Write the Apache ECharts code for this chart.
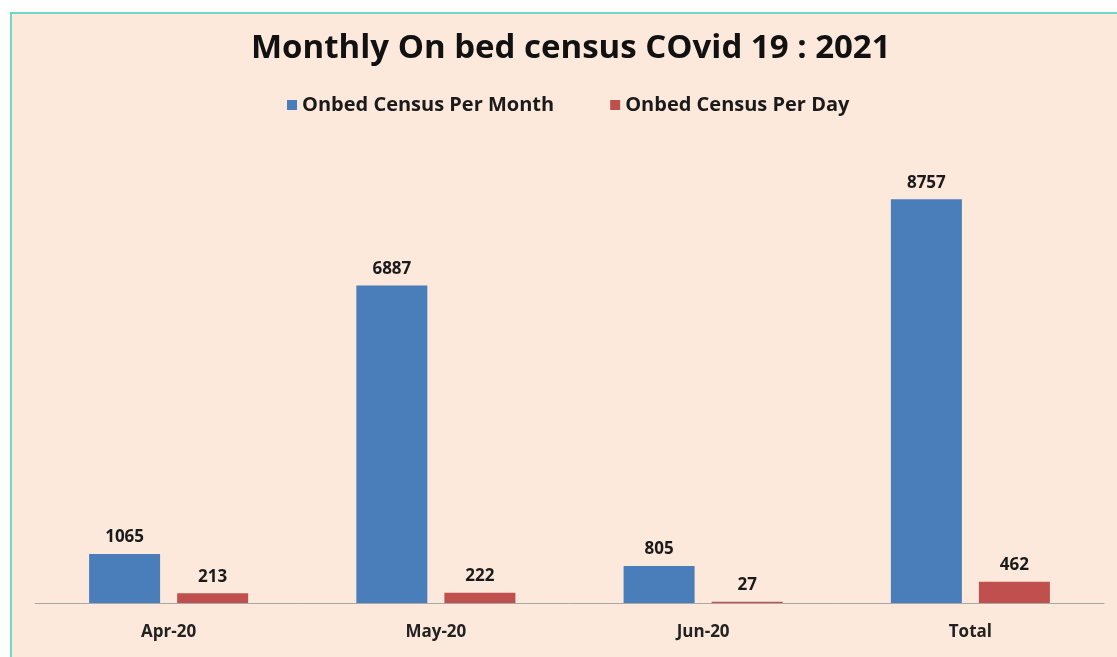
<!DOCTYPE html>
<html>
<head>
<meta charset="utf-8">
<script src="https://cdn.jsdelivr.net/npm/echarts@6/dist/echarts.min.js"></script>
<style>
html,body{margin:0;padding:0;background:#fff;width:1117px;height:657px;overflow:hidden;}
#bg{position:absolute;left:10px;top:12px;right:0;bottom:0;background:#FDE9DC;border-left:2px solid #6FD8C2;border-top:2px solid #6FD8C2;}
#chart{position:absolute;left:0;top:0;width:1117px;height:657px;}
</style>
</head>
<body>
<div id="bg"></div>
<div id="chart"></div>
<script>
const categories = ['Apr-20', 'May-20', 'Jun-20', 'Total'];
const perMonth = [1065, 6887, 805, 8757];
const perDay = [213, 222, 27, 462];
const seriesNames = ['Onbed Census Per Month', 'Onbed Census Per Day'];
const titleText = 'Monthly On bed census COvid 19 : 2021';

const chart = echarts.init(document.getElementById('chart'));
const labelStyle = {show: true, position: 'top', distance: 8, fontFamily: 'Open Sans', fontWeight: 'bold', fontSize: 17, color: '#1a1a1a'};
chart.setOption({
  backgroundColor: 'transparent',
  animation: false,
  title: {
    text: titleText, left: 246, top: 27,
    textStyle: {fontFamily: 'Open Sans', fontWeight: 'bold', fontSize: 33, color: '#111'}
  },
  legend: {
    top: 90, left: 282, itemWidth: 10, itemHeight: 10, itemGap: 56, icon: 'rect',
    textStyle: {fontFamily: 'Open Sans', fontWeight: 'bold', fontSize: 20, color: '#1a1a1a'},
    data: seriesNames
  },
  grid: {left: 35, right: 13, top: 142, bottom: 54},
  xAxis: {
    type: 'category', data: categories,
    axisLine: {lineStyle: {color: '#A8A8A8', width: 1}},
    axisTick: {show: false},
    axisLabel: {margin: 21, fontFamily: 'Open Sans', fontWeight: 'bold', fontSize: 17, color: '#222'}
  },
  yAxis: {type: 'value', min: 0, max: 10000, show: false, splitLine: {show: false}},
  series: [
    {name: seriesNames[0], type: 'bar', data: perMonth, barWidth: 71, barGap: '24%',
     itemStyle: {color: '#4A7EBB'}, label: labelStyle},
    {name: seriesNames[1], type: 'bar', data: perDay, barWidth: 71,
     itemStyle: {color: '#C0504D'}, label: labelStyle}
  ]
});
</script>
</body>
</html>
